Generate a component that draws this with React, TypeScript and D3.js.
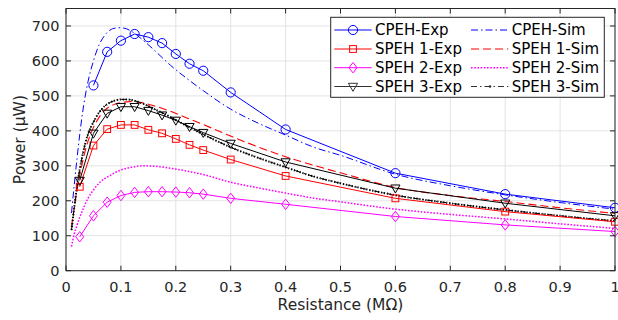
import React from "react";
import * as d3 from "d3";

const W = 618;
const H = 320;
const M = { left: 66, right: 3, top: 8.5, bottom: 49.3 };

const expX = [0.025, 0.05, 0.075, 0.1, 0.125, 0.15, 0.175, 0.2, 0.225, 0.25, 0.3, 0.4, 0.6, 0.8, 1.0];
const cpehExpX = [0.05, 0.075, 0.1, 0.125, 0.15, 0.175, 0.2, 0.225, 0.25, 0.3, 0.4, 0.6, 0.8, 1.0];
const cpehExp = [530, 626, 658, 677, 668, 651, 620, 592, 572, 510, 404, 279, 219, 180];
const speh1Exp = [240, 358, 405, 417, 417, 403, 393, 377, 360, 345, 318, 271, 207, 169, 140];
const speh2Exp = [97, 157, 196, 215, 224, 226, 226, 225, 223, 219, 207, 190, 155, 131, 112];
const speh3Exp = [258, 393, 450, 469, 469, 458, 445, 430, 412, 395, 364, 311, 236, 193, 157];

const simX = [0.01, 0.015, 0.02, 0.03, 0.04, 0.05, 0.06, 0.07, 0.08, 0.09, 0.1, 0.11, 0.12, 0.14, 0.16, 0.19, 0.22, 0.25, 0.3, 0.35, 0.4, 0.45, 0.5, 0.6, 0.7, 0.8, 0.9, 1.0];
const cpehSim = [165, 245, 320, 450, 540, 600, 645, 672, 688, 694, 695, 692, 684, 660, 632, 588, 550, 515, 462, 422, 388, 354, 330, 276, 243, 217, 195, 176];
const speh1Sim = [125, 180, 230, 310, 370, 410, 438, 458, 470, 477, 481, 483, 484, 480, 472, 456, 437, 418, 385, 354, 326, 302, 280, 238, 215, 198, 180, 164];
const speh2Sim = [69, 105, 130, 172, 207, 231, 250, 263, 272, 281, 288, 293, 296, 300, 299, 293, 285, 275, 253, 237, 222, 208, 197, 176, 161, 148, 134, 121];
const speh3Sim = [116, 180, 240, 330, 390, 425, 452, 470, 481, 487, 490, 490, 488, 478, 463, 440, 414, 390, 353, 323, 296, 270, 250, 216, 193, 174, 157, 142];

const xTicks = [0, 0.1, 0.2, 0.3, 0.4, 0.5, 0.6, 0.7, 0.8, 0.9, 1];
const yTicks = [0, 100, 200, 300, 400, 500, 600, 700];

const BLUE = "#0000ff";
const RED = "#ff0000";
const MAG = "#ff00ff";
const BLK = "#000000";
const AX = "#262626";
const FONT = "DejaVu Sans, sans-serif";

type Marker = "circle" | "square" | "diamond" | "triangle" | "none";

function MarkerShape({ kind, x, y, color }: { kind: Marker; x: number; y: number; color: string }) {
  if (kind === "circle") return <circle cx={x} cy={y} r={4.6} fill="none" stroke={color} strokeWidth={1} />;
  if (kind === "square") return <rect x={x - 3.4} y={y - 3.4} width={6.8} height={6.8} fill="none" stroke={color} strokeWidth={1} />;
  if (kind === "diamond")
    return <path d={`M${x},${y - 5.2}L${x + 4},${y}L${x},${y + 5.2}L${x - 4},${y}Z`} fill="none" stroke={color} strokeWidth={1} />;
  if (kind === "triangle")
    return <path d={`M${x - 4.6},${y - 3.2}L${x + 4.6},${y - 3.2}L${x},${y + 4.8}Z`} fill="none" stroke={color} strokeWidth={1} />;
  return null;
}

export default function App() {
  const x = d3.scaleLinear().domain([0, 1]).range([M.left, W - M.right]);
  const y = d3.scaleLinear().domain([0, 750]).range([H - M.bottom, M.top]);
  const x0 = x(0), x1 = x(1), y0 = y(0), y1 = y(750);

  const lin = d3.line<[number, number]>().x((d) => x(d[0])).y((d) => y(d[1]));
  const smooth = d3.line<[number, number]>().x((d) => x(d[0])).y((d) => y(d[1])).curve(d3.curveMonotoneX);
  const zip = (xs: number[], ys: number[]) => xs.map((v, i) => [v, ys[i]] as [number, number]);

  const exps = [
    { xs: cpehExpX, ys: cpehExp, color: BLUE, m: "circle" as Marker },
    { xs: expX, ys: speh1Exp, color: RED, m: "square" as Marker },
    { xs: expX, ys: speh2Exp, color: MAG, m: "diamond" as Marker },
    { xs: expX, ys: speh3Exp, color: BLK, m: "triangle" as Marker },
  ];

  const legendExp = [
    { label: "CPEH-Exp", color: BLUE, m: "circle" as Marker },
    { label: "SPEH 1-Exp", color: RED, m: "square" as Marker },
    { label: "SPEH 2-Exp", color: MAG, m: "diamond" as Marker },
    { label: "SPEH 3-Exp", color: "#333", m: "triangle" as Marker },
  ];
  const legendSim = [
    { label: "CPEH-Sim", color: BLUE, dash: "7,3,1.5,3", w: 1 },
    { label: "SPEH 1-Sim", color: RED, dash: "8,4", w: 1.1 },
    { label: "SPEH 2-Sim", color: MAG, dash: "1.6,1.6", w: 1.5 },
    { label: "SPEH 3-Sim", color: "#333", dash: "6,3,1.5,3", w: 1 },
  ];
  const lgX = 330.7, lgY = 17.3, lgW = 273.6, lgH = 80, rowY = [30, 49, 67.7, 86.5];

  return (
    <svg width={W} height={H} style={{ position: "absolute", left: 0, top: 0, background: "#fff" }} fontFamily={FONT}>
      <rect x={0} y={0} width={W} height={H} fill="#fff" />
      <rect x={x0} y={y1} width={x1 - x0} height={y0 - y1} fill="#fff" />
      {/* grid */}
      {xTicks.map((t) => (
        <line key={"gx" + t} x1={x(t)} x2={x(t)} y1={y0} y2={y1} stroke="#e3e3e3" strokeWidth={1} />
      ))}
      {yTicks.concat([750]).map((t) => (
        <line key={"gy" + t} x1={x0} x2={x1} y1={y(t)} y2={y(t)} stroke="#e3e3e3" strokeWidth={1} />
      ))}

      {/* simulations */}
      <path d={smooth(zip(simX, cpehSim)) || ""} fill="none" stroke={BLUE} strokeWidth={1} strokeDasharray="7,3,1.5,3" />
      <path d={smooth(zip(simX, speh1Sim)) || ""} fill="none" stroke={RED} strokeWidth={1.1} strokeDasharray="8,4" />
      <path d={smooth(zip(simX, speh2Sim)) || ""} fill="none" stroke={MAG} strokeWidth={1.5} strokeDasharray="1.6,1.6" />
      <path d={smooth(zip(simX, speh3Sim)) || ""} fill="none" stroke={BLK} strokeWidth={1} strokeDasharray="6,3,1.5,3" />
      <path d={smooth(zip(simX, speh3Sim)) || ""} fill="none" stroke={BLK} strokeWidth={2} strokeDasharray="1.2,1.8" />

      {/* experiments */}
      {exps.map((s, i) => (
        <g key={"e" + i}>
          <path d={lin(zip(s.xs, s.ys)) || ""} fill="none" stroke={s.color} strokeWidth={1} />
          {s.xs.map((v, j) => (
            <MarkerShape key={j} kind={s.m} x={x(v)} y={y(s.ys[j])} color={s.color} />
          ))}
        </g>
      ))}

      {/* axes box */}
      <rect x={x0} y={y1} width={x1 - x0} height={y0 - y1} fill="none" stroke={AX} strokeWidth={1} />
      {xTicks.map((t) => (
        <g key={"tx" + t}>
          <line x1={x(t)} x2={x(t)} y1={y0} y2={y0 - 5} stroke={AX} />
          <line x1={x(t)} x2={x(t)} y1={y1} y2={y1 + 5} stroke={AX} />
          <text x={x(t)} y={y0 + 20.8} textAnchor="middle" fontSize={14.5} fill={AX}>
            {String(t)}
          </text>
        </g>
      ))}
      {yTicks.map((t) => (
        <g key={"ty" + t}>
          <line x1={x0} x2={x0 + 5} y1={y(t)} y2={y(t)} stroke={AX} />
          <line x1={x1} x2={x1 - 5} y1={y(t)} y2={y(t)} stroke={AX} />
          <text x={x0 - 6.5} y={y(t)} dy="0.35em" textAnchor="end" fontSize={14.5} fill={AX}>
            {String(t)}
          </text>
        </g>
      ))}
      <text x={(x0 + x1) / 2} y={310} textAnchor="middle" fontSize={15.5} fill={AX}>
        Resistance (MΩ)
      </text>
      <text transform={`translate(25,${(y0 + y1) / 2}) rotate(-90)`} textAnchor="middle" fontSize={15.5} fill={AX}>
        Power (μW)
      </text>

      {/* legend */}
      <rect x={lgX} y={lgY} width={lgW} height={lgH} fill="#fff" stroke={AX} strokeWidth={1} />
      {legendExp.map((l, i) => (
        <g key={"le" + i}>
          <line x1={334.3} x2={371.7} y1={rowY[i]} y2={rowY[i]} stroke={l.color} strokeWidth={1} />
          <MarkerShape kind={l.m} x={353} y={rowY[i]} color={l.color} />
          <text x={375} y={rowY[i]} dy="0.36em" fontSize={15} fill="#000">
            {l.label}
          </text>
        </g>
      ))}
      {legendSim.map((l, i) => (
        <g key={"ls" + i}>
          <line x1={471} x2={508.3} y1={rowY[i]} y2={rowY[i]} stroke={l.color} strokeWidth={l.w} strokeDasharray={l.dash} />
          {i === 3 && <circle cx={490} cy={rowY[i]} r={1.3} fill="#333" />}
          <text x={511.7} y={rowY[i]} dy="0.36em" fontSize={15} fill="#000">
            {l.label}
          </text>
        </g>
      ))}
    </svg>
  );
}
